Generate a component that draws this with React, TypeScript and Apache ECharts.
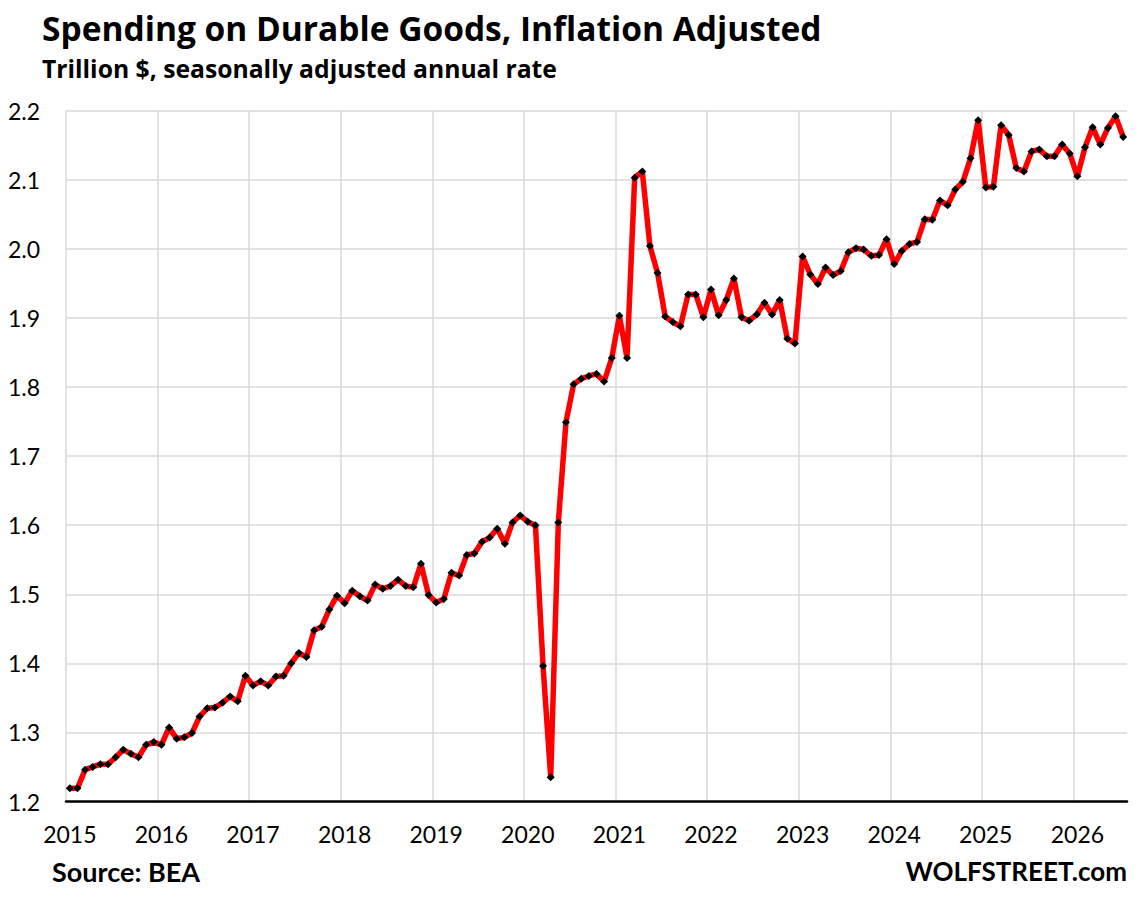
import React, { useEffect, useRef } from "react";
import * as echarts from "echarts";

const years = [2015, 2016, 2017, 2018, 2019, 2020, 2021, 2022, 2023, 2024, 2025, 2026];

const v2015 = [1.219, 1.219, 1.246, 1.25, 1.254, 1.254, 1.264, 1.275, 1.269, 1.264, 1.282, 1.286];
const v2016 = [1.282, 1.307, 1.291, 1.293, 1.299, 1.323, 1.335, 1.336, 1.343, 1.352, 1.345, 1.382];
const v2017 = [1.368, 1.374, 1.368, 1.381, 1.382, 1.4, 1.415, 1.409, 1.448, 1.453, 1.478, 1.498];
const v2018 = [1.487, 1.505, 1.497, 1.491, 1.514, 1.508, 1.512, 1.521, 1.512, 1.51, 1.544, 1.499];
const v2019 = [1.488, 1.493, 1.531, 1.527, 1.557, 1.559, 1.576, 1.582, 1.595, 1.573, 1.604, 1.614];
const v2020 = [1.605, 1.6, 1.396, 1.235, 1.604, 1.749, 1.804, 1.812, 1.816, 1.819, 1.808, 1.842];
const v2021 = [1.903, 1.842, 2.103, 2.112, 2.004, 1.965, 1.902, 1.894, 1.888, 1.934, 1.934, 1.901];
const v2022 = [1.941, 1.904, 1.926, 1.957, 1.901, 1.896, 1.905, 1.922, 1.905, 1.926, 1.87, 1.863];
const v2023 = [1.989, 1.963, 1.949, 1.973, 1.962, 1.968, 1.995, 2.001, 1.999, 1.99, 1.991, 2.014];
const v2024 = [1.978, 1.997, 2.007, 2.01, 2.043, 2.042, 2.07, 2.063, 2.086, 2.097, 2.131, 2.186];
const v2025 = [2.089, 2.09, 2.179, 2.165, 2.117, 2.112, 2.141, 2.144, 2.134, 2.134, 2.151, 2.138];
const v2026 = [2.105, 2.147, 2.176, 2.151, 2.175, 2.192, 2.162];

const yearValues = [v2015, v2016, v2017, v2018, v2019, v2020, v2021, v2022, v2023, v2024, v2025, v2026];

const titleText = "Spending on Durable Goods, Inflation Adjusted";
const subtitleText = "Trillion $, seasonally adjusted annual rate";
const sourceText = "Source: BEA";
const brandText = "WOLFSTREET.com";

const FONT = "Lato, 'Liberation Sans', sans-serif";
const HEAD_FONT = "'Open Sans', 'Liberation Sans', sans-serif";

export default function App() {
  const ref = useRef<HTMLDivElement>(null);

  useEffect(() => {
    if (!ref.current) return;
    const chart = echarts.init(ref.current, null, { renderer: "svg" });

    const categories: string[] = [];
    const values: number[] = [];
    yearValues.forEach((arr, yi) => {
      arr.forEach((v, mi) => {
        categories.push(`${years[yi]}-${String(mi + 1).padStart(2, "0")}`);
        values.push(v);
      });
    });

    chart.setOption({
      animation: false,
      backgroundColor: "#ffffff",
      grid: { left: 66, right: 17, top: 110.7, bottom: 95.5, containLabel: false },
      xAxis: {
        type: "category",
        data: categories,
        boundaryGap: true,
        axisLine: { show: true, lineStyle: { color: "#000000", width: 2.5 } },
        axisTick: { show: false },
        axisLabel: {
          interval: 11,
          margin: 21,
          color: "#000000",
          fontFamily: FONT,
          fontSize: 23,
          formatter: (v: string) => v.slice(0, 4),
        },
        splitLine: {
          show: true,
          interval: 11,
          showMaxLine: false,
          lineStyle: { color: "#d9d9d9", width: 1.5 },
        },
      },
      yAxis: {
        type: "value",
        min: 1.2,
        max: 2.2,
        interval: 0.1,
        axisLine: { show: false },
        axisTick: { show: false },
        axisLabel: {
          margin: 26,
          color: "#000000",
          fontFamily: FONT,
          fontSize: 23,
          formatter: (v: number) => v.toFixed(1),
        },
        splitLine: { show: true, lineStyle: { color: "#d9d9d9", width: 1.5 } },
      },
      series: [
        {
          type: "line",
          data: values,
          lineStyle: { color: "#ff0000", width: 5.5 },
          itemStyle: { color: "#000000" },
          symbol: "diamond",
          symbolSize: 8,
          showAllSymbol: true,
        },
      ],
      graphic: [
        {
          type: "text",
          left: 42,
          top: 11,
          style: { text: titleText, font: `bold 33.5px ${HEAD_FONT}`, fill: "#000000" },
        },
        {
          type: "text",
          left: 42,
          top: 56,
          style: { text: subtitleText, font: `bold 24.7px ${HEAD_FONT}`, fill: "#000000" },
        },
        {
          type: "text",
          left: 52,
          top: 858,
          style: { text: sourceText, font: `bold 27px ${FONT}`, fill: "#000000" },
        },
        {
          type: "text",
          right: 17,
          top: 858,
          style: { text: brandText, font: `bold 26px ${FONT}`, fill: "#000000" },
        },
      ],
    });

    return () => chart.dispose();
  }, []);

  return (
    <div
      ref={ref}
      style={{ position: "fixed", left: 0, top: 0, width: 1144, height: 897 }}
    />
  );
}
